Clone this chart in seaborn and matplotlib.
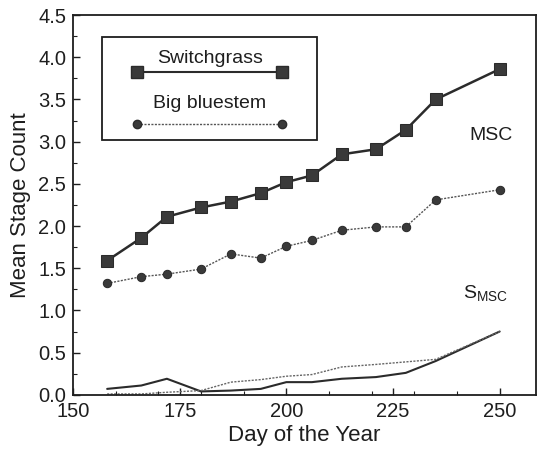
import matplotlib
matplotlib.use("Agg")
import matplotlib.pyplot as plt
from matplotlib.patches import Rectangle
from matplotlib.ticker import MultipleLocator, FormatStrFormatter
import seaborn as sns
import pandas as pd

# sampling days (day of the year)
days = [158, 166, 172, 180, 187, 194, 200, 206, 213, 221, 228, 235, 250]

# mean stage count (MSC)
switch_msc = [1.59, 1.86, 2.11, 2.22, 2.29, 2.39, 2.52, 2.60, 2.85, 2.91, 3.14, 3.50, 3.86]
blue_msc = [1.32, 1.40, 1.43, 1.49, 1.67, 1.62, 1.76, 1.83, 1.95, 1.99, 1.99, 2.31, 2.43]

# standard deviation of stage count (S_MSC)
switch_s = [0.07, 0.11, 0.19, 0.04, 0.05, 0.07, 0.15, 0.15, 0.19, 0.21, 0.26, 0.40, 0.75]
blue_s = [0.01, 0.01, 0.03, 0.05, 0.15, 0.18, 0.22, 0.24, 0.33, 0.36, 0.39, 0.42, 0.75]

df = pd.DataFrame({"day": days, "switch_msc": switch_msc, "blue_msc": blue_msc,
                   "switch_s": switch_s, "blue_s": blue_s})

sns.set_style("ticks")
plt.rcParams["font.family"] = ["Liberation Sans", "DejaVu Sans"]
plt.rcParams["mathtext.default"] = "regular"

dark = "#2b2b2b"
ink = "#1e1e1e"
fig = plt.figure(figsize=(5.37, 4.58), dpi=100)
ax = fig.add_axes([0.136, 0.138, 0.862, 0.829])

# MSC curves
sns.lineplot(data=df, x="day", y="switch_msc", ax=ax, color=dark, linewidth=1.8,
             marker="s", markersize=9, markeredgecolor=dark, markerfacecolor="#3a3a3a")
sns.lineplot(data=df, x="day", y="blue_msc", ax=ax, color="#555555", linewidth=1.0,
             linestyle=(0, (1.5, 1)), marker="o", markersize=6,
             markeredgecolor=dark, markerfacecolor="#3a3a3a")
# S_MSC curves
sns.lineplot(data=df, x="day", y="switch_s", ax=ax, color=dark, linewidth=1.5)
sns.lineplot(data=df, x="day", y="blue_s", ax=ax, color="#666666", linewidth=1.0,
             linestyle=(0, (1.5, 1)))

ax.set_xlim(150, 258.5)
ax.set_ylim(0, 4.5)
ax.xaxis.set_major_locator(MultipleLocator(25))
ax.xaxis.set_minor_locator(MultipleLocator(10))
ax.yaxis.set_major_locator(MultipleLocator(0.5))
ax.yaxis.set_minor_locator(MultipleLocator(0.25))
ax.yaxis.set_major_formatter(FormatStrFormatter("%.1f"))
ax.tick_params(which="both", direction="in", labelsize=14.5, colors=ink)
ax.tick_params(which="major", length=5, width=1.0)
ax.tick_params(which="minor", length=3, width=0.8)
ax.tick_params(axis="x", pad=5)
ax.tick_params(axis="y", pad=5)
for s in ax.spines.values():
    s.set_linewidth(1.3)
    s.set_color(ink)

ax.set_xlabel("Day of the Year", fontsize=16, color=ink, labelpad=3)
ax.set_ylabel("Mean Stage Count", fontsize=16, color=ink, labelpad=5)

# curve annotations
ax.text(0.902, 0.684, "MSC", transform=ax.transAxes, ha="center", va="center",
        fontsize=14, color=ink)
ax.text(0.892, 0.268, "S$_{MSC}$", transform=ax.transAxes, ha="center", va="center",
        fontsize=14, color=ink)

# legend box (drawn by hand: label above sample line)
ax.add_patch(Rectangle((0.062, 0.671), 0.466, 0.272, transform=ax.transAxes,
                       fill=False, edgecolor=ink, linewidth=1.3))
ax.text(0.296, 0.885, "Switchgrass", transform=ax.transAxes, ha="center", va="center",
        fontsize=14, color=ink)
ax.plot([0.139, 0.451], [0.849, 0.849], transform=ax.transAxes, color=dark,
        linewidth=1.5, marker="s", markersize=9, markerfacecolor="#3a3a3a")
ax.text(0.296, 0.767, "Big bluestem", transform=ax.transAxes, ha="center", va="center",
        fontsize=14, color=ink)
ax.plot([0.139, 0.451], [0.713, 0.713], transform=ax.transAxes, color="#555555",
        linewidth=1.0, linestyle=(0, (1.5, 1)), marker="o", markersize=6,
        markeredgecolor=dark, markerfacecolor="#3a3a3a")

fig.savefig("out.png", dpi=100)
